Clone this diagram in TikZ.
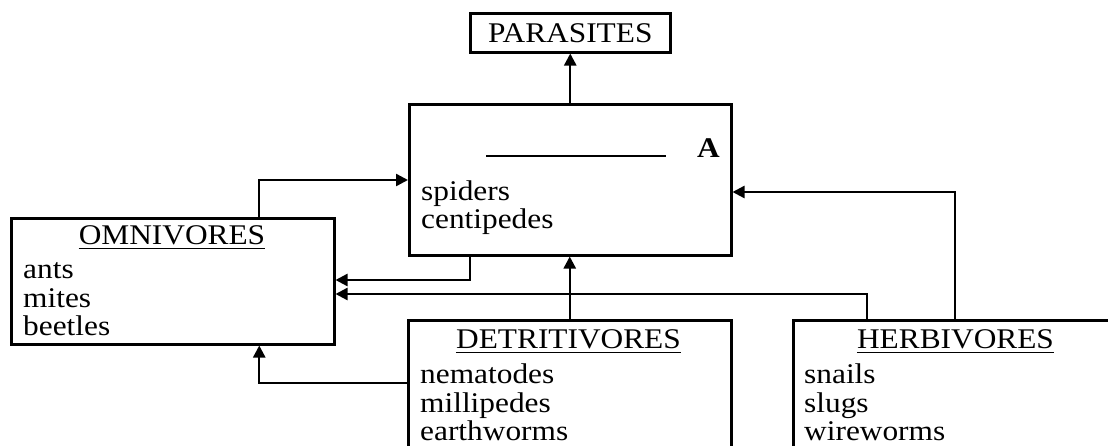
\documentclass[tikz,border=0pt]{standalone}
\usepackage{fontspec}
\setmainfont{Liberation Serif}[FakeStretch=1.1]
\usetikzlibrary{arrows.meta}
\begin{document}
\begin{tikzpicture}[x=1pt,y=-1pt,
  box/.style={draw,line width=2.5pt,inner sep=0pt,anchor=north west},
  txt/.style={inner sep=0pt,font=\fontsize{28.5}{29}\selectfont},
  conn/.style={line width=2.4pt,-{Triangle[length=12pt,width=12pt]}},
  uline/.style={line width=1.6pt}]
\useasboundingbox (0,0) rectangle (1108,445);
\clip (0,0) rectangle (1108,445);
% boxes
\node[box,minimum width=200pt,minimum height=39pt] (par) at (469,12) {};
\node[txt] (partxt) at (par.center) {PARASITES};
\node[box,minimum width=322pt,minimum height=151pt] (cen) at (408,103) {};
\node[box,minimum width=323pt,minimum height=126pt] (omn) at (10,217) {};
\node[box,minimum width=323pt,minimum height=160pt] (det) at (407,319) {};
\node[box,minimum width=340pt,minimum height=160pt] (herb) at (792,319) {};
% central box content
\draw[uline] (486,156) -- (666,156);
\node[txt,anchor=base east] (lblA) at (720,157) {\textbf{A}};
\node[txt,anchor=base west] (c1) at (421,200) {spiders};
\node[txt,anchor=base west] (c2) at (421,228) {centipedes};
% omnivores
\node[txt,anchor=base] (omnt) at (172,244) {OMNIVORES};
\draw[uline] ([yshift=-4.5pt]omnt.base west) -- ([yshift=-4.5pt]omnt.base east);
\node[txt,anchor=base west] (o1) at (23,278) {ants};
\node[txt,anchor=base west] (o2) at (23,307) {mites};
\node[txt,anchor=base west] (o3) at (23,335) {beetles};
% detritivores
\node[txt,anchor=base] (dett) at (568.5,348) {DETRITIVORES};
\draw[uline] ([yshift=-4.5pt]dett.base west) -- ([yshift=-4.5pt]dett.base east);
\node[txt,anchor=base west] (d1) at (420,383) {nematodes};
\node[txt,anchor=base west] (d2) at (420,412) {millipedes};
\node[txt,anchor=base west] (d3) at (420,440) {earthworms};
% herbivores
\node[txt,anchor=base] (herbt) at (955.5,348) {HERBIVORES};
\draw[uline] ([yshift=-4.5pt]herbt.base west) -- ([yshift=-4.5pt]herbt.base east);
\node[txt,anchor=base west] (h1) at (804,383) {snails};
\node[txt,anchor=base west] (h2) at (804,412) {slugs};
\node[txt,anchor=base west] (h3) at (804,440) {wireworms};
% helper levels
\coordinate (yA) at (0,180);
\coordinate (yB) at (0,280);
\coordinate (yC) at (0,294);
\coordinate (yD) at (0,383);
\coordinate (yE) at (0,192);
% connectors
\draw[conn] (cen.north) -- (par.south);
\draw[conn] ([xshift=86.5pt]omn.north) |- (cen.west |- yA);
\draw[conn] ([xshift=-100pt]cen.south) |- (omn.east |- yB);
\draw[conn] ([xshift=75pt]herb.north west) |- (omn.east |- yC);
\draw[conn] (det.north) -- (det.north |- cen.south);
\draw[conn] (det.west |- yD) -| ([xshift=86.5pt]omn.south);
\draw[conn] ([xshift=163pt]herb.north west) |- (cen.east |- yE);
\end{tikzpicture}
\end{document}
